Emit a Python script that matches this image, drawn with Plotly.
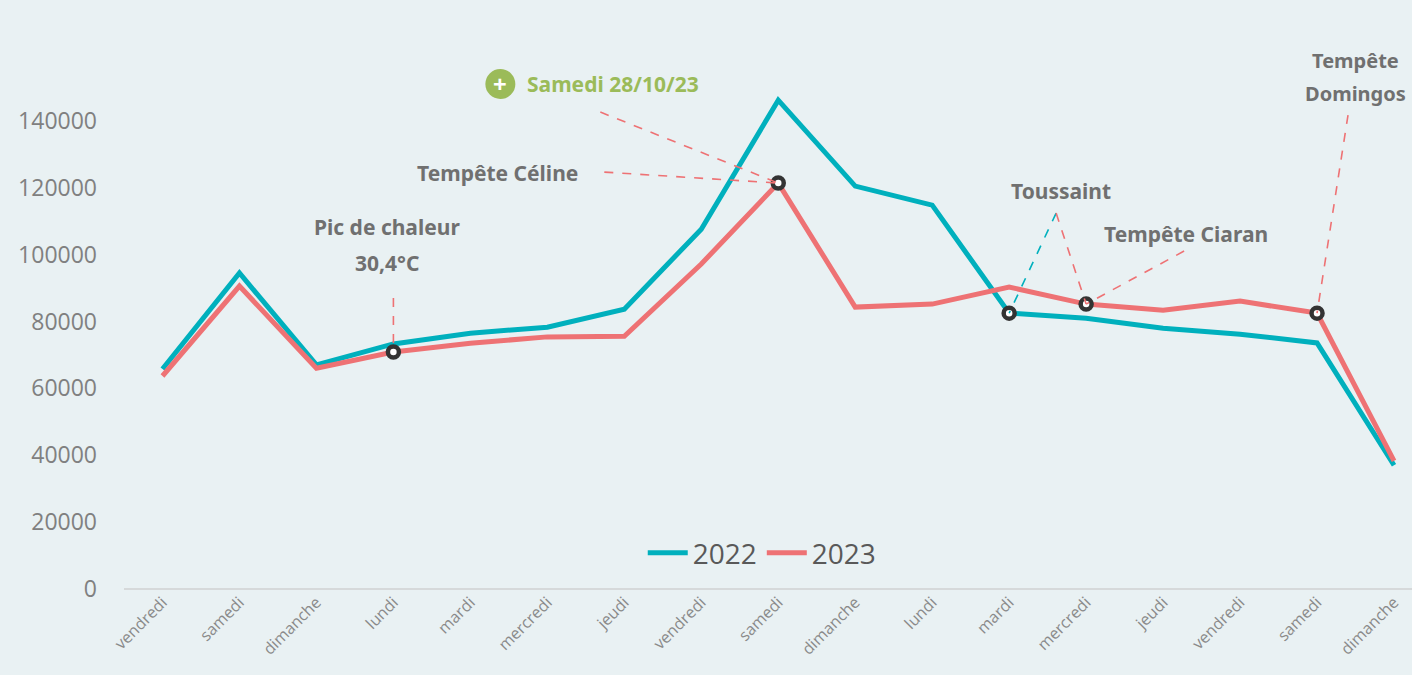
import plotly.graph_objects as go

days = ["vendredi", "samedi", "dimanche", "lundi", "mardi", "mercredi", "jeudi",
        "vendredi", "samedi", "dimanche", "lundi", "mardi", "mercredi", "jeudi",
        "vendredi", "samedi", "dimanche"]
values_2022 = [65800, 94500, 67000, 73300, 76500, 78300, 83700, 107600, 146200,
               120500, 114800, 82500, 81000, 78000, 76200, 73600, 37000]
values_2023 = [63700, 90600, 66000, 70900, 73500, 75400, 75600, 97200, 121400,
               84300, 85200, 90300, 85200, 83400, 86100, 82500, 38300]
y_ticks = [0, 20000, 40000, 60000, 80000, 100000, 120000, 140000]

# highlighted points: (index, series)
highlights = [(3, "2023"), (8, "2023"), (11, "2022"), (12, "2023"), (15, "2023")]

TEAL = "#00B0BD"
RED = "#EE7274"
BG = "#E9F1F3"
GRAY_TXT = "#707070"
GREEN = "#9BBB59"

x = list(range(len(days)))

# pixel -> data helpers for annotation placement
L, T, B, W, H = 123.5, 54, 589, 1412, 675
STEP = 77.0
def px2x(px):
    return (px - L) / STEP - 0.5
def py2y(py):
    return (B - py) * 299.0
def px2paper(px):
    return (px - L) / (W - L)
def py2paper(py):
    return (B - py) / (B - T)

fig = go.Figure()
fig.add_trace(go.Scatter(x=x, y=values_2022, mode="lines", name="2022",
                         line=dict(color=TEAL, width=5)))
fig.add_trace(go.Scatter(x=x, y=values_2023, mode="lines", name="2023",
                         line=dict(color=RED, width=5)))

series = {"2022": values_2022, "2023": values_2023}

shapes = []
def dash(x0, y0, x1, y1, color=RED):
    shapes.append(dict(type="line", xref="x", yref="y", x0=x0, y0=y0, x1=x1, y1=y1,
                       line=dict(color=color, width=1.6, dash="dash")))

# Pic de chaleur
dash(3, py2y(298), 3, values_2023[3])
# Samedi 28/10/23 and Tempête Céline
dash(px2x(600), py2y(112), 8, values_2023[8])
dash(px2x(604), py2y(172), 8, values_2023[8])
# Toussaint
dash(px2x(1056), py2y(213), 11, values_2022[11], TEAL)
dash(px2x(1056), py2y(213), 12, values_2023[12])
# Tempête Ciaran
dash(px2x(1184), py2y(251), 12, values_2023[12])
# Tempête Domingos
dash(px2x(1348), py2y(115), 15, values_2023[15])

# green plus icon
r = 15
shapes.append(dict(type="circle", xref="paper", yref="paper",
                   x0=px2paper(500 - r), x1=px2paper(500 + r),
                   y0=py2paper(84 + r), y1=py2paper(84 - r),
                   fillcolor=GREEN, line=dict(width=0)))

fig.add_trace(go.Scatter(
    x=[i for i, s in highlights], y=[series[s][i] for i, s in highlights],
    mode="markers", showlegend=False, hoverinfo="skip",
    marker=dict(size=11, color="white", line=dict(color="#333333", width=4.5))))

FONT = "Noto Sans"
annotations = []
def note(text, px, py, color=GRAY_TXT, size=21, xanchor="center"):
    annotations.append(dict(text=text, x=px2paper(px), y=py2paper(py), xref="paper",
                            yref="paper", showarrow=False, xanchor=xanchor,
                            yanchor="middle",
                            font=dict(family=FONT, size=size, color=color)))

note("<b>Pic de chaleur</b>", 387, 227)
note("<b>30,4°C</b>", 387, 263)
note("<b>Tempête Céline</b>", 497, 173)
note("<b>Samedi 28/10/23</b>", 525, 84, color=GREEN, xanchor="left")
note("<b>+</b>", 500, 83, color="white", size=24)
note("<b>Toussaint</b>", 1061, 191)
note("<b>Tempête Ciaran</b>", 1186, 234)
note("<b>Tempête</b>", 1355, 60, size=20)
note("<b>Domingos</b>", 1355, 93, size=20)

fig.update_layout(
    width=W, height=H,
    margin=dict(l=L, r=0, t=T, b=H - B, pad=0),
    paper_bgcolor=BG, plot_bgcolor=BG,
    shapes=shapes, annotations=annotations,
    showlegend=True,
    legend=dict(orientation="h", x=px2paper(762), y=py2paper(553),
                xanchor="center", yanchor="middle", bgcolor="rgba(0,0,0,0)",
                font=dict(family="Open Sans", size=28, color="#595959"),
                itemwidth=40, tracegroupgap=0),
    xaxis=dict(range=[-0.5, px2x(W)], tickvals=x, ticktext=days, tickangle=-45,
               showgrid=False, zeroline=False, showline=False, ticks="",
               tickfont=dict(family="Open Sans", size=16, color="#8A8A8A")),
    yaxis=dict(range=[0, 160000], tickvals=y_ticks, tickformat="d",
               showgrid=False, zeroline=True, zerolinecolor="#D6D9DA", zerolinewidth=1.5,
               showline=False, ticks="", ticklabelstandoff=26,
               tickfont=dict(family="Open Sans", size=23, color="#808080")),
)

fig.write_html("out.html", config={"displayModeBar": False},
               post_script="document.body.style.margin='0';document.body.style.padding='0';")
